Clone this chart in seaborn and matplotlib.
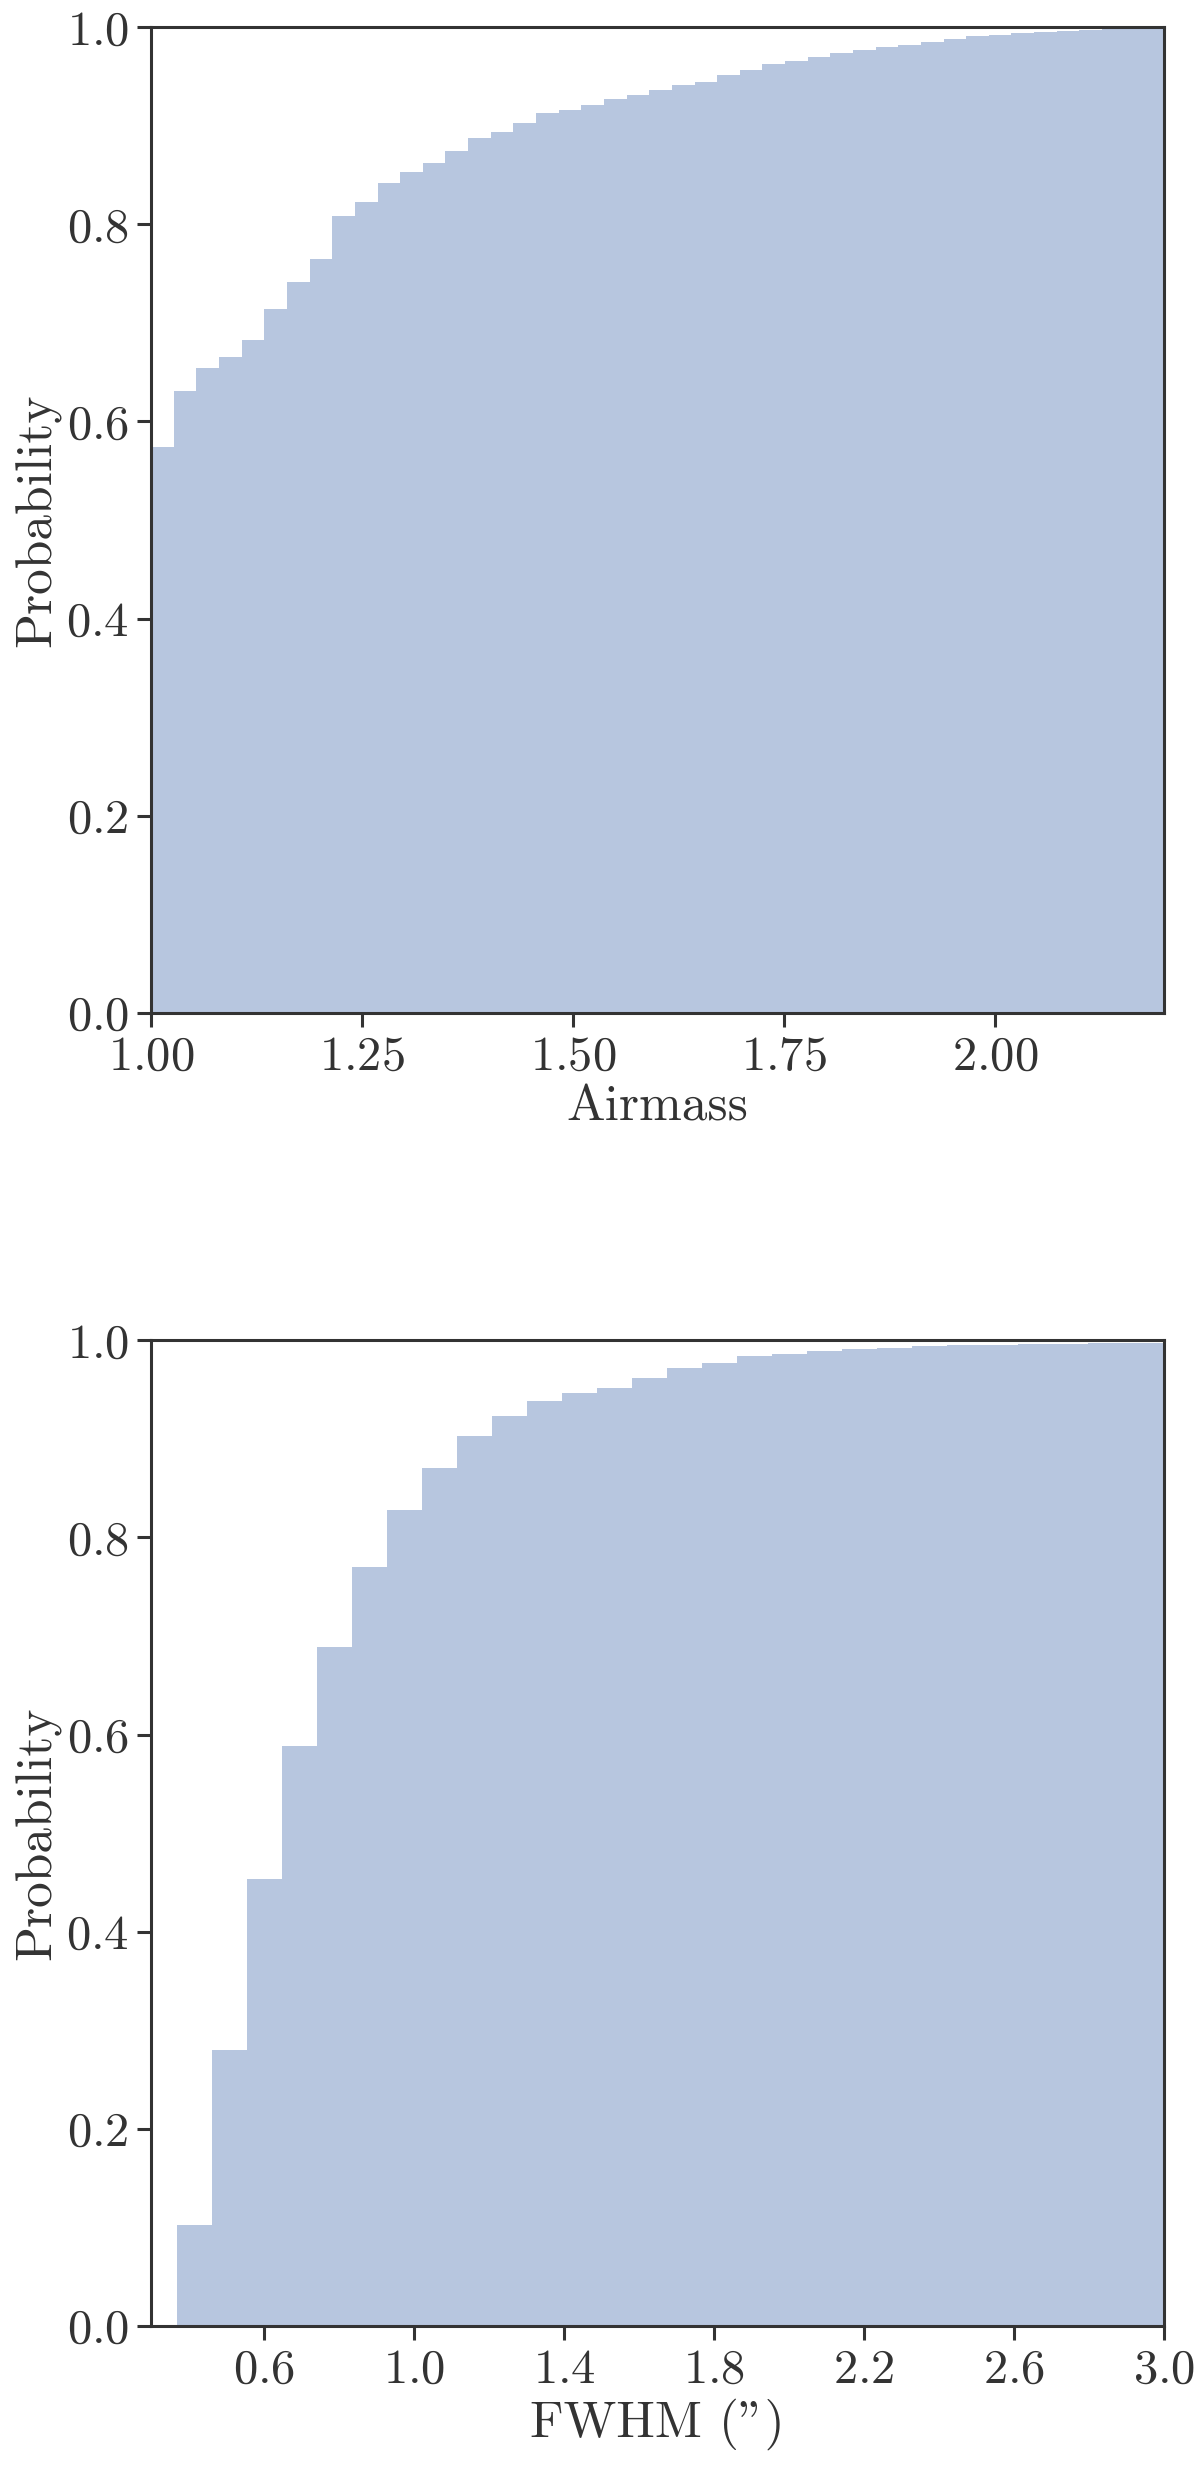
# Cumulative distributions of airmass and seeing (FWHM) for the observations.

import numpy as np
import pandas as pd
import matplotlib
matplotlib.use("Agg")
import matplotlib.pyplot as plt
import seaborn as sns


# Cumulative probability per bin.
airmass_cdf = [0.574, 0.631, 0.654, 0.665, 0.683, 0.714, 0.741, 0.765, 0.808, 0.823,
               0.842, 0.853, 0.862, 0.874, 0.888, 0.894, 0.903, 0.913, 0.916, 0.921,
               0.927, 0.931, 0.936, 0.941, 0.944, 0.951, 0.957, 0.963, 0.966, 0.970,
               0.974, 0.977, 0.980, 0.982, 0.985, 0.988, 0.991, 0.992, 0.994, 0.995,
               0.996, 0.997, 0.998, 0.999, 1.000]
fwhm_cdf = [0.103, 0.280, 0.454, 0.588, 0.689, 0.770, 0.828, 0.870, 0.903, 0.923,
            0.938, 0.947, 0.952, 0.962, 0.972, 0.977, 0.984, 0.986, 0.989, 0.991,
            0.992, 0.994, 0.995, 0.995, 0.996, 0.996, 0.997, 0.997, 0.997]

# Bin layout of each histogram.
airmass_range = (1.0, 2.207)
fwhm_first_edge, fwhm_width = 0.368, 0.0934

airmass_ticks = [1.00, 1.25, 1.50, 1.75, 2.00]
fwhm_ticks = [0.6, 1.0, 1.4, 1.8, 2.2, 2.6, 3.0]
prob_ticks = [0.0, 0.2, 0.4, 0.6, 0.8, 1.0]


sns.set_theme(style="ticks")
plt.rcParams["font.family"] = ["cmr10", "DejaVu Serif"]
plt.rcParams["mathtext.fontset"] = "cm"
plt.rcParams["axes.formatter.use_mathtext"] = True
dark = "#333333"
plt.rcParams.update({
    "axes.edgecolor": dark, "axes.linewidth": 2.2,
    "xtick.color": dark, "ytick.color": dark,
    "xtick.major.size": 10, "ytick.major.size": 10,
    "xtick.major.width": 2.2, "ytick.major.width": 2.2,
    "text.color": dark, "axes.labelcolor": dark,
})

color = sns.color_palette("deep")[0]
tick_size, label_size = 35, 37


def cdf_panel(ax, edges, cdf):
    # turn the cumulative values back into per-bin weights, let histplot sum them
    edges = [float(e) for e in edges]
    centers = [(a + b) / 2 for a, b in zip(edges[:-1], edges[1:])]
    weights = np.diff(np.concatenate([[0.0], cdf]))
    data = pd.DataFrame({"value": centers, "w": weights})
    sns.histplot(data=data, x="value", weights="w", bins=edges, cumulative=True,
                 stat="count", element="step", fill=True, color=color,
                 alpha=0.4, linewidth=0, ax=ax)
    ax.set_ylim(0, 1)
    ax.set_yticks(prob_ticks)
    ax.set_ylabel("Probability", fontsize=label_size, labelpad=4)
    ax.tick_params(labelsize=tick_size, pad=6)


fig, axes = plt.subplots(2, 1, figsize=(12, 24.68), dpi=100)
fig.subplots_adjust(left=0.126, right=0.970, top=0.989, bottom=0.0575, hspace=0.332)

airmass_edges = np.linspace(airmass_range[0], airmass_range[1], len(airmass_cdf) + 1)
cdf_panel(axes[0], airmass_edges, airmass_cdf)
axes[0].set_xlim(1.0, 2.2)
axes[0].set_xticks(airmass_ticks)
axes[0].set_xlabel("Airmass", fontsize=label_size, labelpad=4)

fwhm_edges = fwhm_first_edge + fwhm_width * np.arange(len(fwhm_cdf) + 1)
cdf_panel(axes[1], fwhm_edges, fwhm_cdf)
axes[1].set_xlim(0.30, 3.0)
axes[1].set_xticks(fwhm_ticks)
axes[1].set_xlabel("FWHM (\")", fontsize=label_size, labelpad=4)

fig.savefig("out.png", dpi=100)
